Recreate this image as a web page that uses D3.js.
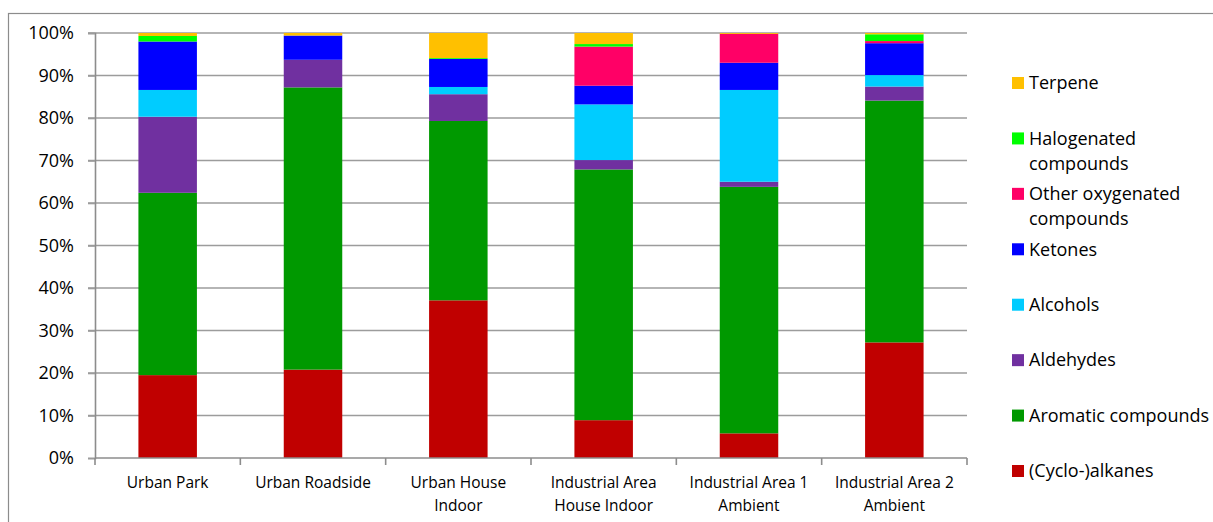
<!DOCTYPE html>
<html>
<head>
<meta charset="utf-8">
<script src="https://cdn.jsdelivr.net/npm/d3@7"></script>
<style>
  html, body { margin: 0; padding: 0; background: #fff; }
  svg { display: block; font-family: "Open Sans", sans-serif; }
</style>
</head>
<body>
<svg id="chart" width="1213" height="522"></svg>
<script>
// ---- Data ----
const categories = ["Urban Park", "Urban Roadside", "Urban House Indoor",
  "Industrial Area House Indoor", "Industrial Area 1 Ambient", "Industrial Area 2 Ambient"];
const categoryLabelLines = [["Urban Park"], ["Urban Roadside"], ["Urban House", "Indoor"],
  ["Industrial Area", "House Indoor"], ["Industrial Area 1", "Ambient"], ["Industrial Area 2", "Ambient"]];

const alkanes     = [19.5, 20.8, 37.1,  8.9,  5.8, 27.2];
const aromatic    = [42.9, 66.4, 42.2, 59.0, 58.0, 56.9];
const aldehydes   = [17.9,  6.5,  6.3,  2.2,  1.2,  3.3];
const alcohols    = [ 6.3,  0.0,  1.7, 13.1, 21.6,  2.7];
const ketones     = [11.4,  5.7,  6.6,  4.4,  6.4,  7.5];
const otherOx     = [ 0.0,  0.0,  0.0,  9.2,  6.8,  0.5];
const halogenated = [ 1.3,  0.0,  0.2,  0.6,  0.0,  1.6];
const terpene     = [ 0.7,  0.6,  5.9,  2.6,  0.2,  0.3];

const seriesNames = ["(Cyclo-)alkanes", "Aromatic compounds", "Aldehydes", "Alcohols",
  "Ketones", "Other oxygenated compounds", "Halogenated compounds", "Terpene"];
const seriesValues = [alkanes, aromatic, aldehydes, alcohols, ketones, otherOx, halogenated, terpene];
const seriesColors = ["#C00000", "#009900", "#7030A0", "#00CCFF", "#0000FF", "#FF0066", "#00FF00", "#FFC000"];
const legendLines = [["(Cyclo-)alkanes"], ["Aromatic compounds"], ["Aldehydes"], ["Alcohols"],
  ["Ketones"], ["Other oxygenated", "compounds"], ["Halogenated", "compounds"], ["Terpene"]];
const yTicks = [0, 0.1, 0.2, 0.3, 0.4, 0.5, 0.6, 0.7, 0.8, 0.9, 1.0];

// ---- Build table ----
const table = categories.map((c, i) => {
  const row = { category: c };
  seriesNames.forEach((s, j) => { row[s] = seriesValues[j][i]; });
  return row;
});

const svg = d3.select("#chart");
const W = 1213, H = 522;
const plot = { left: 95, right: 967, top: 33, bottom: 458 };

// outer frame
svg.append("rect").attr("x", 8.5).attr("y", 13.5).attr("width", W).attr("height", H)
  .attr("fill", "none").attr("stroke", "#8c8c8c").attr("stroke-width", 1.2);

const x = d3.scaleBand().domain(categories).range([plot.left, plot.right]).paddingInner(0.6).paddingOuter(0.3);
const xOuter = d3.scaleBand().domain(categories).range([plot.left, plot.right]);
const y = d3.scaleLinear().domain([0, 1]).range([plot.bottom, plot.top]);

// gridlines
svg.append("g").selectAll("line").data(yTicks.filter(d => d > 0)).join("line")
  .attr("x1", plot.left - 7).attr("x2", plot.right)
  .attr("y1", d => y(d)).attr("y2", d => y(d))
  .attr("stroke", "#9c9c9c").attr("stroke-width", 1.6);

// stacked bars
const stack = d3.stack().keys(seriesNames).offset(d3.stackOffsetExpand);
const stacked = stack(table);
svg.append("g").selectAll("g").data(stacked).join("g")
  .attr("fill", (d, i) => seriesColors[i])
  .selectAll("rect").data(d => d).join("rect")
  .attr("x", d => xOuter(d.data.category) + (xOuter.bandwidth() - 58.5) / 2)
  .attr("width", 58.5)
  .attr("y", d => y(d[1]))
  .attr("height", d => Math.max(0, y(d[0]) - y(d[1])));

// y axis
const yAxis = svg.append("g").attr("transform", `translate(${plot.left},0)`)
  .call(d3.axisLeft(y).tickValues(yTicks).tickFormat(d3.format(".0%")).tickSize(7).tickPadding(14));
yAxis.select(".domain").attr("stroke", "#8c8c8c").attr("stroke-width", 1.6);
yAxis.selectAll(".tick line").attr("stroke", "#9c9c9c").attr("stroke-width", 1.6);
yAxis.selectAll(".tick text").attr("font-size", 18).attr("font-family", "Open Sans").attr("fill", "#000");

// x axis
const xAxisG = svg.append("g").attr("transform", `translate(0,${plot.bottom})`);
xAxisG.append("line").attr("x1", plot.left).attr("x2", plot.right).attr("y1", 0).attr("y2", 0)
  .attr("stroke", "#8c8c8c").attr("stroke-width", 1.6);
const boundaries = categories.map(c => xOuter(c)).concat([plot.right]);
xAxisG.selectAll("line.tk").data(boundaries).join("line").attr("class", "tk")
  .attr("x1", d => d).attr("x2", d => d).attr("y1", 0).attr("y2", 7)
  .attr("stroke", "#8c8c8c").attr("stroke-width", 1.6);
const xl = xAxisG.selectAll("text").data(categories).join("text")
  .attr("text-anchor", "middle").attr("font-size", 15.5).attr("fill", "#000")
  .attr("x", d => xOuter(d) + xOuter.bandwidth() / 2).attr("y", 30);
xl.each(function(d, i) {
  const t = d3.select(this);
  categoryLabelLines[i].forEach((ln, k) => {
    t.append("tspan").attr("x", xOuter(d) + xOuter.bandwidth() / 2).attr("dy", k === 0 ? 0 : 23).text(ln);
  });
});

// legend (top to bottom: reversed series order)
const legendOrder = d3.range(seriesNames.length).reverse();
const legendY = d3.scalePoint().domain(legendOrder).range([83, 471]);
const lg = svg.append("g").selectAll("g").data(legendOrder).join("g")
  .attr("transform", d => `translate(1012,${legendY(d)})`);
lg.append("rect").attr("x", 0).attr("y", -6).attr("width", 12).attr("height", 12)
  .attr("fill", d => seriesColors[d]);
lg.append("text").attr("x", 17).attr("y", 0).attr("dy", "0.35em")
  .attr("font-size", 18).attr("fill", "#000")
  .each(function(d) {
    const t = d3.select(this);
    legendLines[d].forEach((ln, k) => {
      t.append("tspan").attr("x", 17).attr("dy", k === 0 ? "0.35em" : 25).text(ln);
    });
  });
</script>
</body>
</html>
